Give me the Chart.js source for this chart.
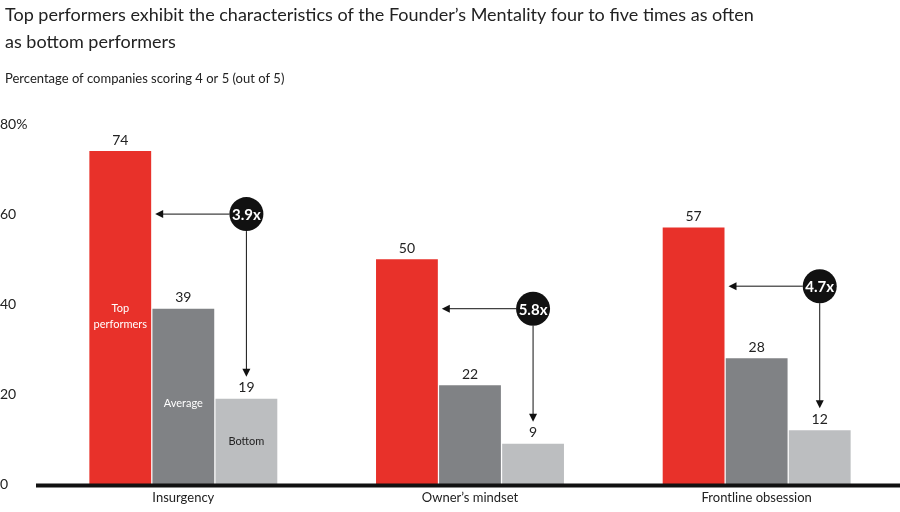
<!DOCTYPE html>
<html><head><meta charset="utf-8">
<script src="https://cdn.jsdelivr.net/npm/chart.js@4"></script>
<style>body{margin:0;background:#fff}#wrap{width:900px;height:512px}</style>
</head><body><div id="wrap"><canvas id="myChart"></canvas></div>
<script>
var categories = ['Insurgency', 'Owner\u2019s mindset', 'Frontline obsession'];
var topPerformers = [74, 50, 57];
var average = [39, 22, 28];
var bottom = [19, 9, 12];
var ratios = ['3.9x', '5.8x', '4.7x'];
var ratioLevel = [60, 39, 44];
var yTicks = [0, 20, 40, 60, 80];

var font = 'Lato, "Open Sans", sans-serif';

var extras = {
  id: 'extras',
  afterDatasetsDraw: function(chart) {
    var c = chart.ctx, ys = chart.scales.y;
    c.save();
    c.fillStyle = '#222';
    c.font = '18px ' + font;
    c.textBaseline = 'top';
    c.fillText('Top performers exhibit the characteristics of the Founder\u2019s Mentality four to five times as often', 5, 6);
    c.fillText('as bottom performers', 5, 33);
    c.font = '13px ' + font;
    c.fillText('Percentage of companies scoring 4 or 5 (out of 5)', 5, 72);

    // axis line
    c.strokeStyle = '#111'; c.lineWidth = 4;
    c.beginPath(); c.moveTo(36, ys.getPixelForValue(0) + 1); c.lineTo(900, ys.getPixelForValue(0) + 1); c.stroke();

    // value labels
    c.font = '14px ' + font; c.textAlign = 'center'; c.textBaseline = 'bottom'; c.fillStyle = '#222';
    chart.data.datasets.forEach(function(ds, i) {
      chart.getDatasetMeta(i).data.forEach(function(b, j) {
        c.fillText(ds.data[j], b.x, b.y - 4);
      });
    });

    var red = chart.getDatasetMeta(0).data, bot = chart.getDatasetMeta(2).data;
    // inner labels
    c.font = '11px ' + font; c.textBaseline = 'middle';
    c.fillStyle = '#fff';
    c.fillText('Top', red[0].x, ys.getPixelForValue(39));
    c.fillText('performers', red[0].x, ys.getPixelForValue(35.5));
    c.fillText('Average', chart.getDatasetMeta(1).data[0].x, ys.getPixelForValue(18));
    c.fillStyle = '#222';
    c.fillText('Bottom', bot[0].x, ys.getPixelForValue(9.5));

    // ratio arrows
    for (var k = 0; k < categories.length; k++) {
      var cx = bot[k].x, cy = ys.getPixelForValue(ratioLevel[k]), r = 17;
      var left = red[k].x + red[k].width / 2 + 4;
      var bTop = ys.getPixelForValue(bottom[k]) - 22;
      c.strokeStyle = '#111'; c.fillStyle = '#111'; c.lineWidth = 1;
      c.beginPath(); c.moveTo(cx - r, cy); c.lineTo(left + 6, cy); c.stroke();
      c.beginPath(); c.moveTo(left, cy); c.lineTo(left + 8, cy - 4); c.lineTo(left + 8, cy + 4); c.fill();
      c.beginPath(); c.moveTo(cx, cy + r); c.lineTo(cx, bTop - 6); c.stroke();
      c.beginPath(); c.moveTo(cx, bTop); c.lineTo(cx - 4, bTop - 8); c.lineTo(cx + 4, bTop - 8); c.fill();
      c.beginPath(); c.arc(cx, cy, r, 0, Math.PI * 2); c.fill();
      c.fillStyle = '#fff'; c.font = 'bold 15px ' + font;
      c.fillText(ratios[k], cx, cy + 1);
    }
    c.restore();
  }
};

var ctx = document.getElementById('myChart').getContext('2d');
var myChart = new Chart(ctx, {
  type: 'bar',
  data: {
    labels: categories,
    datasets: [
      { label: 'Top performers', data: topPerformers, backgroundColor: '#e8312a' },
      { label: 'Average', data: average, backgroundColor: '#808285' },
      { label: 'Bottom', data: bottom, backgroundColor: '#bcbec0' }
    ]
  },
  options: {
    responsive: true, maintainAspectRatio: false, animation: false,
    layout: { padding: { top: 124, right: 0, bottom: 0, left: 0 } },
    datasets: { bar: { barPercentage: 0.98, categoryPercentage: 0.66 } },
    plugins: { legend: { display: false }, tooltip: { enabled: false } },
    scales: {
      x: {
        grid: { display: false, drawTicks: false }, border: { display: false },
        ticks: { color: '#222', font: { family: font, size: 13 }, padding: 6 }
      },
      y: {
        min: 0, max: 80,
        afterFit: function(s) { s.width = 40; },
        afterBuildTicks: function(s) { s.ticks = yTicks.map(function(v) { return { value: v }; }); },
        grid: { display: false }, border: { display: false },
        ticks: {
          color: '#222', font: { family: font, size: 14 }, crossAlign: 'far',
          callback: function(v) { return v === 80 ? v + '%' : v; }
        }
      }
    }
  },
  plugins: [extras]
});
</script></body></html>
